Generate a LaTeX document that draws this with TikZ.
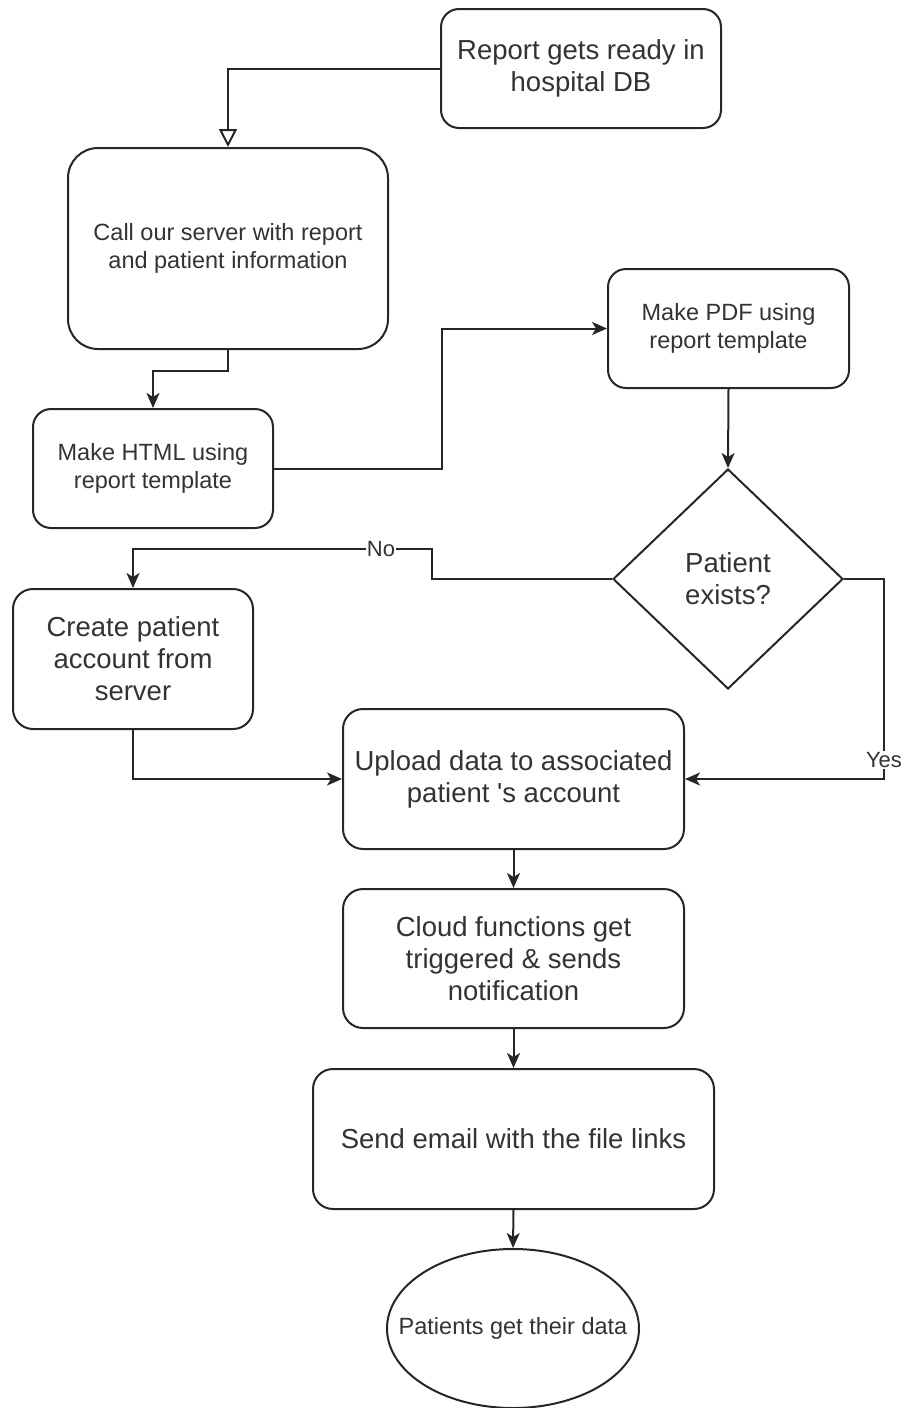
\documentclass[tikz,border=0pt]{standalone}
\usepackage{fontspec}
\setmainfont{Liberation Sans}
\usetikzlibrary{arrows.meta,shapes.geometric}
\begin{document}
\begin{tikzpicture}[x=1pt,y=-1pt,
  box/.style={draw=black!85, line width=2pt, rounded corners=18pt, align=center, text=black!80, inner sep=0pt, fill=white},
  big/.style={font=\fontsize{27.5}{32}\selectfont},
  small/.style={font=\fontsize{23.5}{28}\selectfont},
  conn/.style={draw=black!85, line width=2pt, -{Stealth[length=15pt,width=13pt,inset=4pt]}},
  openconn/.style={draw=black!85, line width=2pt, -{Triangle[open,length=18pt,width=18pt,fill=white]}},
  lbl/.style={fill=white, text=black!80, font=\fontsize{22}{26}\selectfont, inner sep=1pt}]
\useasboundingbox (0,0) rectangle (906,1408);
\node[box,big,minimum width=280pt,minimum height=119pt] (A) at (581,68.5) {Report gets ready in\\hospital DB};
\node[box,small,minimum width=320pt,minimum height=201pt,rounded corners=30pt] (B) at (228,248.5) {Call our server with report\\and patient information};
\node[box,small,minimum width=240pt,minimum height=119pt] (C) at (153,468.5) {Make HTML using\\report template};
\node[box,small,minimum width=241pt,minimum height=119pt] (D) at (728.5,328.5) {Make PDF using\\report template};
\node[draw=black!85, line width=2pt, diamond, aspect=1.05, minimum width=230pt, minimum height=220pt, inner sep=0pt, align=center, text=black!80, big] (Q) at (728,579) {Patient\\exists?};
\node[box,big,minimum width=240pt,minimum height=140pt,rounded corners=20pt] (E) at (133,659) {Create patient\\account from\\server};
\node[box,big,minimum width=341pt,minimum height=140pt,rounded corners=20pt] (F) at (513.5,779) {Upload data to associated\\patient \textquotesingle s account};
\node[box,big,minimum width=341pt,minimum height=139pt,rounded corners=20pt] (G) at (513.5,958.5) {Cloud functions get\\triggered \& sends\\notification};
\node[box,big,minimum width=401pt,minimum height=140pt,rounded corners=20pt] (H) at (513.5,1139) {Send email with the file links};
\node[draw=black!85, line width=2pt, ellipse, minimum width=252pt, minimum height=159pt, inner sep=0pt, text=black!80, small] (P) at (513,1328.5) {\makebox[0pt]{Patients get their data}};

\draw[openconn] (A.west) -| (B.north);
\draw[conn] (B.south) -- ++(0,21) -| (C.north);
\draw[conn] (C.east) -- ++(168,0) |- (D.west);
\draw[conn] (D.south) -- (Q.north);
\draw[conn] (Q.west) -- ++(-180,0) -- ++(0,-30) -- ++(-51,0) node[lbl]{No} -| (E.north);
\draw[conn] (Q.east) -- ++(40,0) -- ++(0,181) node[lbl]{Yes} |- (F.east);
\draw[conn] (E.south) |- (F.west);
\draw[conn] (F.south) -- (G.north);
\draw[conn] (G.south) -- (H.north);
\draw[conn] (H.south) -- (P.north);
\end{tikzpicture}
\end{document}
